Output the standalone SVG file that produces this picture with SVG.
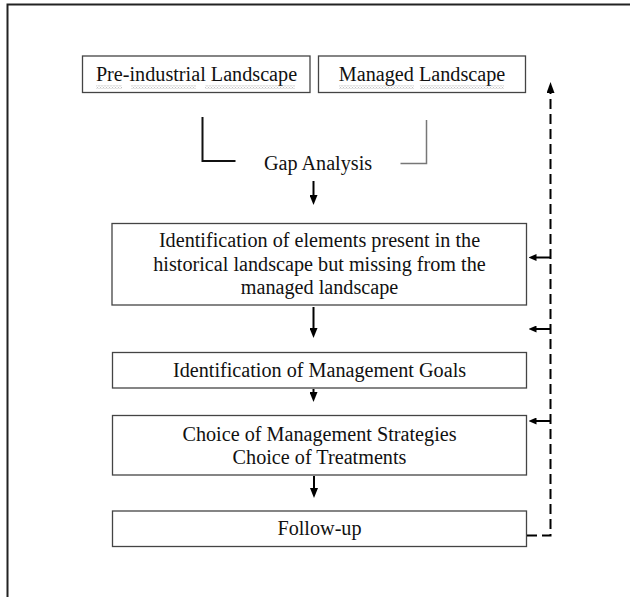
<svg xmlns="http://www.w3.org/2000/svg" width="630" height="597" viewBox="0 0 630 597">
<style>
.box{fill:#fff;stroke:#444;stroke-width:1.3}
.t{font-family:"Liberation Serif","Times New Roman",serif;font-size:20.2px;fill:#111;text-anchor:middle}
.arr{stroke:#000;stroke-width:2;fill:none}
.dash{stroke:#000;stroke-width:2;fill:none;stroke-dasharray:10 5}
.wavy{fill:url(#wavy)}
</style>
<defs>
<marker id="down" viewBox="0 0 10 8" markerWidth="10" markerHeight="8" refX="5" refY="4" orient="auto" markerUnits="userSpaceOnUse"><path d="M0,0 L10,4 L0,8 z" fill="#000"/></marker>
<marker id="up" viewBox="0 0 11 8" markerWidth="11" markerHeight="8" refX="6" refY="4" orient="auto" markerUnits="userSpaceOnUse"><path d="M0,0 L11,4 L0,8 z" fill="#000"/></marker>
<marker id="left" viewBox="0 0 8 7" markerWidth="8" markerHeight="7" refX="4" refY="3.5" orient="auto" markerUnits="userSpaceOnUse"><path d="M0,0 L8,3.5 L0,7 z" fill="#000"/></marker>
<pattern id="wavy" width="3" height="3" patternUnits="userSpaceOnUse"><path d="M0,2.5 L1.5,0.5 L3,2.5" stroke="#999" stroke-width="0.7" fill="none"/></pattern>
</defs>
<path d="M7.5,597 V4.5 H630" fill="none" stroke="#222" stroke-width="2"/>
<g id="pre-industrial">
<rect class="box" x="82.5" y="56" width="227.5" height="36.5"/>
<text class="t" transform="translate(196.5,81) scale(1,1.07)">Pre-industrial Landscape</text>
<rect class="wavy" x="96" y="85.5" width="26" height="3"/>
<rect class="wavy" x="131" y="85.5" width="65" height="3"/>
<rect class="wavy" x="205" y="85.5" width="90" height="3"/>
</g>
<g id="managed">
<rect class="box" x="318.5" y="56" width="207" height="36.5"/>
<text class="t" transform="translate(422,81) scale(1,1.07)">Managed Landscape</text>
<rect class="wavy" x="339" y="85.5" width="75" height="3"/>
<rect class="wavy" x="420" y="85.5" width="84" height="3"/>
</g>
<g id="gap-analysis">
<text class="t" transform="translate(318,170) scale(1,1.07)">Gap Analysis</text>
</g>
<g id="identification-elements">
<rect class="box" x="112" y="223.5" width="414.5" height="81.5"/>
<text class="t" transform="translate(319.5,247) scale(1,1.07)">Identification of elements present in the</text>
<text class="t" transform="translate(319.5,271) scale(1,1.07)">historical landscape but missing from the</text>
<text class="t" transform="translate(319.5,293.5) scale(1,1.07)">managed landscape</text>
</g>
<g id="management-goals">
<rect class="box" x="112.5" y="352.5" width="414" height="35.5"/>
<text class="t" transform="translate(319.5,376.5) scale(1,1.07)">Identification of Management Goals</text>
</g>
<g id="strategies">
<rect class="box" x="112.5" y="415.5" width="414" height="59.5"/>
<text class="t" transform="translate(319.5,440.5) scale(1,1.07)">Choice of Management Strategies</text>
<text class="t" transform="translate(319.5,464) scale(1,1.07)">Choice of Treatments</text>
</g>
<g id="follow-up">
<rect class="box" x="112.5" y="511" width="414" height="35.5"/>
<text class="t" transform="translate(319.5,535) scale(1,1.07)">Follow-up</text>
</g>
<g id="connectors">
<path d="M202.5,117 V161 H235.5" fill="none" stroke="#111" stroke-width="2"/>
<path d="M426.5,120 V163.5 H400.5" fill="none" stroke="#777" stroke-width="1.5"/>
<line class="arr" x1="313.5" y1="181" x2="313.5" y2="200" marker-end="url(#down)"/>
<line class="arr" x1="313.5" y1="307" x2="313.5" y2="333" marker-end="url(#down)"/>
<line class="arr" x1="313.5" y1="389" x2="313.5" y2="397" marker-end="url(#down)"/>
<line class="arr" x1="314" y1="476" x2="314" y2="493" marker-end="url(#down)"/>
<path class="dash" d="M527,535.5 H550.5 V87" marker-end="url(#up)"/>
<line class="arr" x1="550.5" y1="257.5" x2="532.5" y2="257.5" marker-end="url(#left)"/>
<line class="arr" x1="550.5" y1="329" x2="532.5" y2="329" marker-end="url(#left)"/>
<line class="arr" x1="550.5" y1="421" x2="532.5" y2="421" marker-end="url(#left)"/>
</g>
</svg>
